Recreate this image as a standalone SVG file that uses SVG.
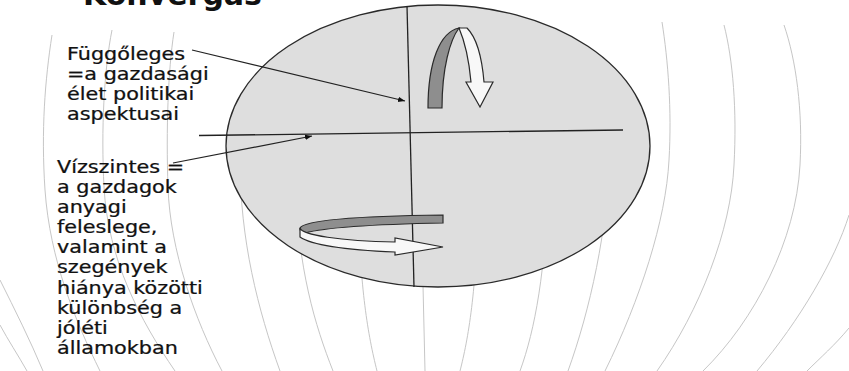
<svg xmlns="http://www.w3.org/2000/svg" width="849" height="371" viewBox="0 0 849 371">
<defs>
<style>
.bg{fill:none;stroke:#c6c6c6;stroke-width:1}
.ln{fill:none;stroke:#222;stroke-width:1.3}
.ptr{fill:none;stroke:#222;stroke-width:1.2}
.txt{font-family:"DejaVu Sans","Verdana",sans-serif;font-size:17px;fill:#111;stroke:#111;stroke-width:0.25}
.rib{stroke:#2a2a2a;stroke-width:1.2;stroke-linejoin:miter}
</style>
<marker id="ah" viewBox="0 0 10 10" refX="10" refY="5" markerWidth="7" markerHeight="7" markerUnits="userSpaceOnUse" orient="auto">
<path d="M0,1 L10,5 L0,9 Z" fill="#111"/>
</marker>
</defs>
<rect width="849" height="371" fill="#fff"/>
<text x="83" y="5" font-family="DejaVu Sans, sans-serif" font-size="30" font-weight="bold" fill="#111">Konvergas</text>
<g id="background">
<path class="bg" d="M662,22 C668,60 672,110 669,160 C666,220 640,300 605,371"/>
<path class="bg" d="M724,25 C733,60 737,110 734,165 C731,230 700,310 657,371"/>
<path class="bg" d="M784,25 C796,60 803,110 800,165 C796,240 755,320 703,371"/>
<path class="bg" d="M849,215 C835,260 800,320 757,371"/>
<path class="bg" d="M849,328 C835,345 820,358 807,371"/>
<path class="bg" d="M610,150 C608,230 590,310 568,371"/>
<path class="bg" d="M548,180 C546,270 535,330 520,371"/>
<path class="bg" d="M478,200 C477,290 468,340 460,371"/>
<path class="bg" d="M421,200 L425,371"/>
<path class="bg" d="M358,200 C360,290 368,335 377,371"/>
<path class="bg" d="M295,180 C298,270 315,325 333,371"/>
<path class="bg" d="M240,160 C240,240 258,310 280,371"/>
<path class="bg" d="M174,32 C168,70 166,130 168,187 C170,250 195,320 222,371"/>
<path class="bg" d="M112,30 C104,70 101,130 104,187 C108,260 140,320 175,371"/>
<path class="bg" d="M52,35 C45,80 41,130 45,190 C50,260 75,320 100,371"/>
<path class="bg" d="M0,280 C15,310 30,340 43,371"/>
<path class="bg" d="M0,325 C8,340 18,355 27,371"/>
</g>
<g id="globe">
<ellipse cx="438" cy="146" rx="212" ry="141" fill="#dedede" stroke="#2a2a2a" stroke-width="1.3"/>
<line class="ln" x1="407" y1="6" x2="414" y2="287"/>
<line class="ln" x1="199" y1="135.5" x2="623" y2="130"/>
</g>
<g id="vertical-rotation">
<path class="rib" fill="#8e8e8e" d="M428,108 C428,62 440,32 459,28 C450,40 442,68 442,108 Z"/>
<path class="rib" fill="#f8f8f8" d="M459,28 L467,28 C477,38 482,58 484,82 L493,82 L480,107 L466,82 L471,82 C469,60 465,42 459,28 Z"/>
</g>
<g id="horizontal-rotation">
<path class="rib" fill="#8e8e8e" d="M443,215 L443,223 C390,224 330,226 305,233 C300,232 300,230 300,228 C305,220 360,216 443,215 Z"/>
<path class="rib" fill="#f8f8f8" d="M300,228 C302,235 340,241 395,242 L395,238 L443,247 L395,255 L395,252 C347,250 313,246 300,237 Z"/>
</g>
<g id="connectors">
<line class="ptr" x1="192" y1="50" x2="405" y2="101" marker-end="url(#ah)"/>
<line class="ptr" x1="173" y1="163" x2="312" y2="136" marker-end="url(#ah)"/>
</g>
<g id="label-vertical" transform="translate(67,0) scale(1.22,1)">
<text class="txt" x="0" y="60">Függőleges</text>
<text class="txt" x="0" y="80.5">=a gazdasági</text>
<text class="txt" x="0" y="100.5">élet politikai</text>
<text class="txt" x="0" y="120.5">aspektusai</text>
</g>
<g id="label-horizontal" transform="translate(57,0) scale(1.22,1)">
<text class="txt" x="0" y="173">Vízszintes =</text>
<text class="txt" x="0" y="193.1">a gazdagok</text>
<text class="txt" x="0" y="213.2">anyagi</text>
<text class="txt" x="0" y="233.3">feleslege,</text>
<text class="txt" x="0" y="253.4">valamint a</text>
<text class="txt" x="0" y="273.5">szegények</text>
<text class="txt" x="0" y="293.6">hiánya közötti</text>
<text class="txt" x="0" y="313.7">különbség a</text>
<text class="txt" x="0" y="333.8">jóléti</text>
<text class="txt" x="0" y="354">államokban</text>
</g>
</svg>
